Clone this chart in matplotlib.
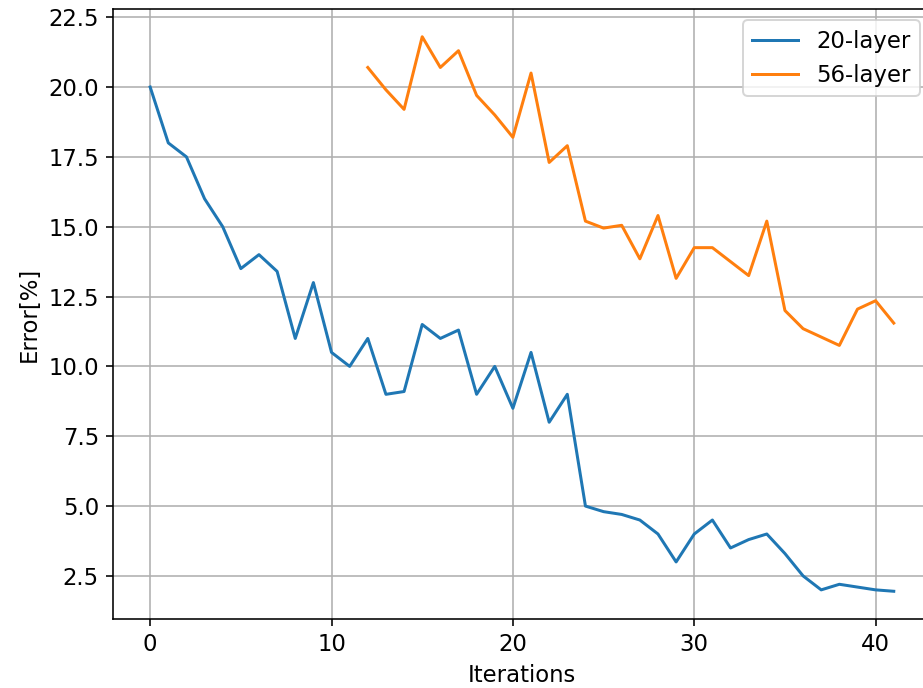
import matplotlib
matplotlib.use("Agg")
import matplotlib.pyplot as plt

# 20-layer
iter_20 = list(range(0, 42))
err_20 = [20.0, 18.0, 17.5, 16.0, 15.0, 13.5, 14.0, 13.4, 11.0, 13.0,
          10.5, 10.0, 11.0, 9.0, 9.1, 11.5, 11.0, 11.3, 9.0, 10.0,
          8.5, 10.5, 8.0, 9.0, 5.0, 4.8, 4.7, 4.5, 4.0, 3.0,
          4.0, 4.5, 3.5, 3.8, 4.0, 3.3, 2.5, 2.0, 2.2, 2.1,
          2.0, 1.95]

# 56-layer
iter_56 = list(range(12, 42))
err_56 = [20.7, 19.9, 19.2, 21.8, 20.7, 21.3, 19.7, 19.0, 18.2, 20.5,
          17.3, 17.9, 15.2, 14.95, 15.05, 13.85, 15.4, 13.15, 14.25, 14.25,
          13.75, 13.25, 15.2, 12.0, 11.35, 11.05, 10.75, 12.05, 12.35, 11.55]

plt.rcParams["font.size"] = 11.4

fig = plt.figure(figsize=(923 / 144, 688 / 144), dpi=144)
# el borde derecho queda fuera de la imagen, como en el original recortado
ax = fig.add_axes([0.1224, 0.1003, 0.8862, 0.8866])

ax.plot(iter_20, err_20, label="20-layer")
ax.plot(iter_56, err_56, label="56-layer")
ax.set_xlabel("Iterations")
ax.set_ylabel("Error[%]")
ax.legend(loc="upper right")
ax.grid(True)

fig.savefig("out.png", dpi=144)
